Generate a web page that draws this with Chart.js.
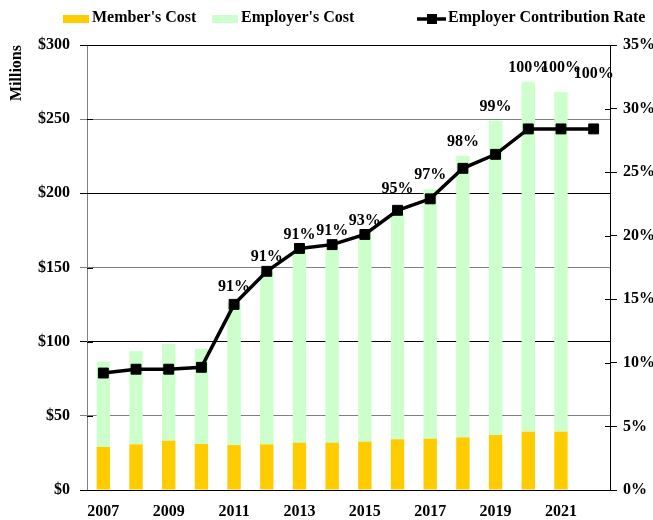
<!DOCTYPE html>
<html>
<head>
<meta charset="utf-8">
<script src="https://cdn.jsdelivr.net/npm/chart.js@4.4.0/dist/chart.umd.min.js"></script>
<style>
  html, body { margin: 0; padding: 0; background: #fff; }
  #wrap { width: 653px; height: 520px; }
</style>
</head>
<body>
<div id="wrap"><canvas id="chart" width="653" height="520"></canvas></div>
<script>
const years = ['2007', '2008', '2009', '2010', '2011', '2012', '2013', '2014',
  '2015', '2016', '2017', '2018', '2019', '2020', '2021', '2022'];
// $ millions
const memberCost = [29, 30.8, 33.3, 31, 30.3, 30.8, 31.9, 31.9,
  32.6, 34.2, 34.6, 35.5, 37.1, 39.3, 39.3, null];
const employerCost = [57.5, 62.9, 65.1, 64.3, 95.7, 116.2, 129.9, 130.1,
  139.4, 152.3, 168.1, 189.7, 211.9, 236, 228.8, null];
// percent of payroll
const contributionRate = [9.2, 9.5, 9.5, 9.65, 14.6, 17.2, 19.0, 19.3,
  20.1, 22.0, 22.9, 25.3, 26.4, 28.4, 28.4, 28.4];
const shareLabels = ['', '', '', '', '91%', '91%', '91%', '91%',
  '93%', '95%', '97%', '98%', '99%', '100%', '100%', '100%'];
const leftTicks = [0, 50, 100, 150, 200, 250, 300];

const serif = "'Liberation Serif', 'Times New Roman', serif";
const boldFont = { family: serif, size: 16, weight: 'bold' };

// labels sit above the bar top (or the line point), a few nudged like the original
const shareLabelPlugin = {
  id: 'shareLabels',
  afterDatasetsDraw(chart, args, opts) {
    const { ctx } = chart;
    const yScale = chart.scales.y;
    const lineMeta = chart.getDatasetMeta(2);
    ctx.save();
    ctx.font = 'bold 16px ' + serif;
    ctx.fillStyle = '#000';
    ctx.textAlign = 'center';
    ctx.textBaseline = 'middle';
    shareLabels.forEach((txt, i) => {
      if (!txt) return;
      const pt = lineMeta.data[i];
      let top = pt.y;
      if (memberCost[i] != null) {
        top = Math.min(top, yScale.getPixelForValue(memberCost[i] + employerCost[i]));
      }
      const extra = opts.shift[i] || 0;
      ctx.fillText(txt, pt.x, top - 14 + extra);
    });
    ctx.restore();
  },
};

const legendPlugin = {
  id: 'topLegend',
  afterDraw(chart) {
    const { ctx, chartArea } = chart;
    ctx.save();
    // inner halves of the axis tick marks
    ctx.strokeStyle = '#000';
    ctx.lineWidth = 1;
    ctx.beginPath();
    chart.scales.y.ticks.forEach((t) => {
      const py = Math.round(chart.scales.y.getPixelForValue(t.value)) + 0.5;
      ctx.moveTo(chartArea.left, py);
      ctx.lineTo(chartArea.left + 6, py);
    });
    chart.scales.y1.ticks.forEach((t) => {
      const py = Math.round(chart.scales.y1.getPixelForValue(t.value)) + 0.5;
      ctx.moveTo(chartArea.right - 5, py);
      ctx.lineTo(chartArea.right, py);
    });
    ctx.stroke();

    ctx.font = 'bold 16px ' + serif;
    ctx.textBaseline = 'middle';
    const y = 18;
    ctx.fillStyle = '#FFCC00';
    ctx.fillRect(63, 15, 26, 8);
    ctx.fillStyle = '#CCFFCC';
    ctx.fillRect(212, 15, 26, 8);
    ctx.fillStyle = '#000';
    ctx.fillText(chart.data.datasets[0].label, 92, y);
    ctx.fillText(chart.data.datasets[1].label, 241, y);
    ctx.lineWidth = 3.5;
    ctx.beginPath();
    ctx.moveTo(417, 19);
    ctx.lineTo(446, 19);
    ctx.stroke();
    ctx.fillRect(427, 14, 10, 10);
    ctx.fillText(chart.data.datasets[2].label, 448, y);
    ctx.restore();
  },
};

const ctx = document.getElementById('chart').getContext('2d');
new Chart(ctx, {
  type: 'bar',
  data: {
    labels: years,
    datasets: [
      {
        label: "Member's Cost",
        data: memberCost,
        backgroundColor: '#FFCC00',
        yAxisID: 'y',
        stack: 'cost',
        order: 1,
        categoryPercentage: 1,
        barPercentage: 0.41,
      },
      {
        label: "Employer's Cost",
        data: employerCost,
        backgroundColor: '#CCFFCC',
        yAxisID: 'y',
        stack: 'cost',
        order: 1,
        categoryPercentage: 1,
        barPercentage: 0.41,
      },
      {
        type: 'line',
        label: 'Employer Contribution Rate',
        data: contributionRate,
        yAxisID: 'y1',
        borderColor: '#000',
        backgroundColor: '#000',
        borderWidth: 3.5,
        pointStyle: 'rect',
        pointRadius: 7,
        pointBorderWidth: 1,
        tension: 0,
        order: 0,
      },
    ],
  },
  options: {
    responsive: false,
    animation: false,
    layout: { padding: { top: 45, left: 0, right: 0, bottom: 0 } },
    plugins: {
      legend: { display: false },
      tooltip: { enabled: false },
      shareLabels: { shift: { 4: -2, 9: -7, 14: -10, 15: -41 } },
    },
    scales: {
      x: {
        stacked: true,
        offset: true,
        grid: { display: false },
        border: { display: false },
        ticks: {
          font: boldFont,
          color: '#000',
          padding: 4,
          autoSkip: false,
          maxRotation: 0,
          callback: (v, i) => (i % 2 === 0 ? years[i] : ''),
        },
        afterFit: (s) => { s.height = 30; },
      },
      y: {
        stacked: true,
        position: 'left',
        min: 0,
        max: 300,
        afterBuildTicks: (s) => { s.ticks = leftTicks.map((v) => ({ value: v })); },
        ticks: {
          font: boldFont,
          color: '#000',
          padding: 10,
          callback: (v) => '$' + v,
        },
        grid: {
          color: (c) => (c.index % 2 === 0 ? '#000' : '#808080'),
          lineWidth: 1,
          tickLength: 7,
        },
        border: { color: '#808080', width: 1 },
        title: {
          display: true,
          text: 'Millions',
          align: 'end',
          font: boldFont,
          color: '#000',
          padding: { top: 7, bottom: 0 },
        },
        afterFit: (s) => { s.width = 87; },
      },
      y1: {
        position: 'right',
        min: 0,
        max: 35,
        ticks: {
          stepSize: 5,
          font: boldFont,
          color: '#000',
          padding: 6,
          callback: (v) => v + '%',
        },
        grid: { drawOnChartArea: false, color: '#000', tickLength: 7 },
        border: { color: '#000', width: 1 },
        afterFit: (s) => { s.width = 43; },
      },
    },
  },
  plugins: [shareLabelPlugin, legendPlugin],
});
</script>
</body>
</html>
